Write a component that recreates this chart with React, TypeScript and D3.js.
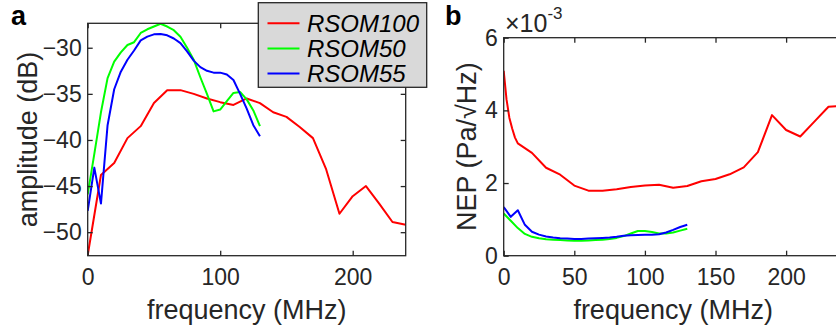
import React, { useEffect, useRef } from 'react';
import * as d3 from 'd3';

// frequency grids (MHz)
const freq10 = [0, 10, 20, 30, 40, 50, 60, 70, 80, 90, 100, 110, 120, 130, 140, 150, 160, 170, 180, 190, 200, 210, 220, 230, 240];
const freq5 = [0, 5, 10, 15, 20, 25, 30, 35, 40, 45, 50, 55, 60, 65, 70, 75, 80, 85, 90, 95, 100, 105, 110, 115, 120, 125, 130];
const freqRedNep = [0, 2, 4, 6, 8, 10, 20, 30, 40, 50, 60, 70, 80, 90, 100, 110, 120, 130, 140, 150, 160, 170, 180, 190, 200, 210, 220, 230, 240];

// panel a: amplitude (dB)
const ampRed = [-52.5, -43.8, -42.5, -39.8, -38.5, -36.0, -34.6, -34.6, -35.0, -35.5, -35.9, -36.2, -35.5, -36.0, -37.0, -37.5, -38.6, -39.8, -43.2, -48.0, -46.1, -45.0, -46.9, -48.9, -49.2];
const ampGreen = [-45.9, -41.5, -37.0, -33.3, -31.5, -30.5, -29.7, -29.4, -28.4, -28.0, -27.7, -27.4, -27.7, -28.1, -28.8, -30.0, -31.3, -33.2, -35.0, -36.9, -36.7, -35.8, -34.9, -34.8, -35.6, -36.8, -38.5];
const ampBlue = [-47.7, -43.0, -46.9, -38.4, -34.5, -32.6, -31.3, -30.3, -29.2, -28.8, -28.55, -28.5, -28.65, -29.0, -29.5, -30.4, -31.4, -32.1, -32.5, -32.7, -32.7, -32.9, -33.5, -35.0, -36.6, -38.4, -39.6];

// panel b: NEP (x10^-3 Pa/sqrt(Hz))
const nepRed = [5.09, 4.3, 3.8, 3.5, 3.25, 3.09, 2.83, 2.42, 2.23, 1.93, 1.79, 1.79, 1.83, 1.89, 1.93, 1.95, 1.87, 1.92, 2.05, 2.11, 2.24, 2.43, 2.85, 3.87, 3.46, 3.28, 3.69, 4.10, 4.13];
const nepGreen = [1.16, 0.96, 0.76, 0.60, 0.52, 0.48, 0.45, 0.44, 0.43, 0.42, 0.41, 0.41, 0.42, 0.43, 0.44, 0.46, 0.49, 0.54, 0.61, 0.68, 0.68, 0.65, 0.61, 0.61, 0.64, 0.69, 0.74];
const nepBlue = [1.34, 1.07, 1.25, 0.85, 0.66, 0.58, 0.53, 0.50, 0.48, 0.47, 0.46, 0.46, 0.47, 0.48, 0.49, 0.50, 0.52, 0.55, 0.56, 0.57, 0.58, 0.58, 0.59, 0.64, 0.71, 0.79, 0.85];

const legendNames = ['RSOM100', 'RSOM50', 'RSOM55'];
const colors = ['#ff0000', '#00ff00', '#0000ff'];

const ticksA_x = [0, 100, 200];
const ticksA_y = [-50, -45, -40, -35, -30];
const ticksB_x = [0, 50, 100, 150, 200];
const ticksB_y = [0, 2, 4, 6];

const W = 836;
const H = 333;
const ink = '#262626';
const font = '"Liberation Sans", Arial, Helvetica, sans-serif';

type Series = { x: number[]; y: number[]; color: string };

const drawPanel = (svg, opts) => {
  const { id, x, y, xTicks, yTicks, series, xLabel, yLabel, yLabelX, letter, letterX } = opts;
  const [x0, x1] = x.range();
  const [y0, y1] = y.range();

  svg.append('clipPath').attr('id', id)
    .append('rect').attr('x', x0).attr('y', y1).attr('width', x1 - x0).attr('height', y0 - y1);

  const line = d3.line<number>();
  const g = svg.append('g').attr('clip-path', `url(#${id})`);
  series.forEach((s: Series) => {
    g.append('path')
      .attr('d', line(s.x.map((f, i) => [x(f), y(s.y[i])])))
      .attr('fill', 'none')
      .attr('stroke', s.color)
      .attr('stroke-width', 2)
      .attr('stroke-linejoin', 'round');
  });

  const styleAxis = (a) => {
    a.select('.domain').remove();
    a.selectAll('line').attr('stroke', ink).attr('stroke-width', 1.3);
    a.selectAll('text').attr('fill', ink).attr('font-size', 23).attr('font-family', font);
  };

  svg.append('g').attr('transform', `translate(0,${y0})`)
    .call(d3.axisBottom(x).tickValues(xTicks).tickSize(-5).tickPadding(13).tickFormat(d3.format('d')))
    .call(styleAxis);
  svg.append('g').attr('transform', `translate(0,${y1})`)
    .call(d3.axisTop(x).tickValues(xTicks).tickSize(-5).tickFormat(() => ''))
    .call(styleAxis);
  svg.append('g').attr('transform', `translate(${x0},0)`)
    .call(d3.axisLeft(y).tickValues(yTicks).tickSize(-5).tickPadding(6).tickFormat(d3.format('d')))
    .call(styleAxis);
  svg.append('g').attr('transform', `translate(${x1},0)`)
    .call(d3.axisRight(y).tickValues(yTicks).tickSize(-5).tickFormat(() => ''))
    .call(styleAxis);

  svg.append('rect')
    .attr('x', x0).attr('y', y1).attr('width', x1 - x0).attr('height', y0 - y1)
    .attr('fill', 'none').attr('stroke', ink).attr('stroke-width', 1.3);

  svg.append('text')
    .attr('x', (x0 + x1) / 2).attr('y', 319)
    .attr('text-anchor', 'middle').attr('font-size', 27).attr('font-family', font).attr('fill', ink)
    .text(xLabel);

  svg.append('text')
    .attr('transform', `translate(${yLabelX},${(y0 + y1) / 2}) rotate(-90)`)
    .attr('text-anchor', 'middle').attr('font-size', 27).attr('font-family', font).attr('fill', ink)
    .text(yLabel);

  svg.append('text')
    .attr('x', letterX).attr('y', 25)
    .attr('font-size', 27).attr('font-weight', 'bold').attr('font-family', font).attr('fill', '#000')
    .text(letter);
};

const App = () => {
  const ref = useRef(null);

  useEffect(() => {
    const svg = d3.select(ref.current);
    svg.selectAll('*').remove();

    // panel a
    const xA = d3.scaleLinear().domain([0, 240]).range([87.7, 405.7]);
    const yA = d3.scaleLinear().domain([-52.55, -27.35]).range([255.7, 23.3]);
    drawPanel(svg, {
      id: 'clipA', x: xA, y: yA, xTicks: ticksA_x, yTicks: ticksA_y,
      series: [
        { x: freq10, y: ampRed, color: colors[0] },
        { x: freq5, y: ampGreen, color: colors[1] },
        { x: freq5, y: ampBlue, color: colors[2] },
      ],
      xLabel: 'frequency (MHz)', yLabel: 'amplitude (dB)', yLabelX: 37, letter: 'a', letterX: 11,
    });

    // panel b (right edge runs past the image)
    const xB = d3.scaleLinear().domain([0, 240]).range([503.7, 842.6]);
    const yB = d3.scaleLinear().domain([0, 6]).range([255.7, 37.7]);
    drawPanel(svg, {
      id: 'clipB', x: xB, y: yB, xTicks: ticksB_x, yTicks: ticksB_y,
      series: [
        { x: freqRedNep, y: nepRed, color: colors[0] },
        { x: freq5, y: nepGreen, color: colors[1] },
        { x: freq5, y: nepBlue, color: colors[2] },
      ],
      xLabel: 'frequency (MHz)', yLabel: 'NEP (Pa/\u221AHz)', yLabelX: 476, letter: 'b', letterX: 445,
    });

    const exp = svg.append('text').attr('x', 505).attr('y', 32)
      .attr('font-family', font).attr('fill', ink).attr('font-size', 25);
    exp.append('tspan').text('\u00D710');
    exp.append('tspan').attr('font-size', 17).attr('dy', -13).text('-3');

    // legend
    const lg = svg.append('g');
    lg.append('rect')
      .attr('x', 258.3).attr('y', 2.7).attr('width', 168.4).attr('height', 84.6)
      .attr('fill', '#d9d9d9').attr('stroke', ink).attr('stroke-width', 1.3);
    const rowY = d3.scalePoint().domain(legendNames).range([23.3, 73.6]);
    legendNames.forEach((name, i) => {
      lg.append('line')
        .attr('x1', 267.5).attr('x2', 299.5)
        .attr('y1', rowY(name)).attr('y2', rowY(name))
        .attr('stroke', colors[i]).attr('stroke-width', 2);
      lg.append('text')
        .attr('x', 307).attr('y', rowY(name) + 8.6)
        .attr('font-size', 24).attr('font-style', 'italic').attr('font-family', font).attr('fill', '#000')
        .text(name);
    });
  });

  return (
    <svg
      ref={ref}
      width={W}
      height={H}
      viewBox={`0 0 ${W} ${H}`}
      style={{ position: 'absolute', left: 0, top: 0, background: '#fff' }}
    />
  );
};

export default App;
